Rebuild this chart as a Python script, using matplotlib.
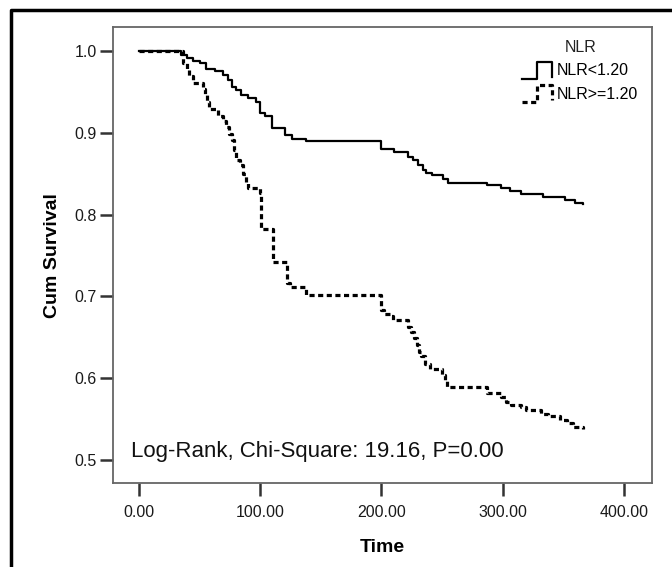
import matplotlib
matplotlib.use("Agg")
import matplotlib.pyplot as plt
from matplotlib.legend_handler import HandlerBase
from matplotlib.lines import Line2D

plt.rcParams['font.family'] = ['Liberation Sans', 'DejaVu Sans']

# Kaplan-Meier steps: (event time, survival after it)
low_time = [0, 35, 40, 45, 50.5, 55, 63, 69.5, 73.5, 76.5, 80.5, 84.5, 90, 97,
            100, 104, 109.5, 120.5, 126, 138, 199.5, 210.5, 222, 226, 230, 234,
            237, 241.5, 251, 255, 287, 299, 306, 315.5, 333.5, 351.5, 359.5, 366]
low_surv = [1.0, 0.995, 0.991, 0.988, 0.985, 0.978, 0.975, 0.971, 0.965, 0.956,
            0.952, 0.946, 0.942, 0.938, 0.924, 0.9205, 0.9055, 0.897, 0.893, 0.890,
            0.880, 0.8765, 0.871, 0.867, 0.861, 0.855, 0.851, 0.848, 0.844, 0.839,
            0.836, 0.832, 0.829, 0.825, 0.821, 0.818, 0.814, 0.813]

high_time = [0, 36, 39.5, 41.5, 44.5, 52.5, 54.5, 56, 58, 65, 69.5, 72, 74.5, 77,
             78.5, 80.5, 83, 85.5, 88, 90, 99.5, 101, 111, 122, 124.5, 138, 200,
             202.5, 207, 209.5, 222, 224.5, 227, 229.5, 231, 232.5, 236, 240, 250,
             252.5, 254.5, 287, 299, 303, 307, 315, 319.5, 332, 337, 347, 353, 358, 366]
high_surv = [1.0, 0.985, 0.977, 0.969, 0.961, 0.953, 0.946, 0.938, 0.929, 0.921,
             0.914, 0.907, 0.899, 0.891, 0.879, 0.867, 0.861, 0.850, 0.840, 0.832,
             0.826, 0.782, 0.742, 0.716, 0.711, 0.702, 0.683, 0.679, 0.676, 0.671,
             0.663, 0.657, 0.649, 0.641, 0.632, 0.627, 0.618, 0.612, 0.604, 0.598,
             0.589, 0.5815, 0.577, 0.571, 0.567, 0.565, 0.561, 0.557, 0.554, 0.549,
             0.545, 0.540, 0.538]

groups = ["NLR<1.20", "NLR>=1.20"]
x_ticks = [0, 100, 200, 300, 400]
y_ticks = [0.5, 0.6, 0.7, 0.8, 0.9, 1.0]
stat_text = "Log-Rank, Chi-Square: 19.16, P=0.00"


class StepHandler(HandlerBase):
    # little step glyph like the SPSS legend
    def create_artists(self, legend, orig_handle, xdescent, ydescent,
                       width, height, fontsize, trans):
        xs = [-xdescent + width * f for f in (0, 0.5, 0.5, 1.0, 1.0)]
        ys = [-ydescent + height * f for f in (-0.15, -0.15, 1.05, 1.05, 0.0)]
        line = Line2D(xs, ys)
        line.update_from(orig_handle)
        line.set_data(xs, ys)
        line.set_transform(trans)
        return [line]


def main():
    fig = plt.figure(figsize=(6.72, 5.67), dpi=100)
    ax = fig.add_axes([0.168, 0.148, 0.802, 0.804])

    l2, = ax.step(high_time, high_surv, where="post", color="black", lw=2.3,
                  linestyle=(0, (1.6, 1.1)), zorder=2)
    l1, = ax.step(low_time, low_surv, where="post", color="black", lw=1.6, zorder=3)

    ax.set_xlim(-21.4, 423)
    ax.set_ylim(0.472, 1.029)
    ax.set_xticks(x_ticks)
    ax.set_xticklabels([f"{v:.2f}" for v in x_ticks])
    ax.set_yticks(y_ticks)
    ax.set_yticklabels([f"{v:.1f}" for v in y_ticks])
    ax.tick_params(direction="out", length=9.5, width=1.8, color="#333333",
                   labelsize=11.5, labelcolor="#1a1a1a")
    ax.tick_params(axis="y", pad=2)
    ax.tick_params(axis="x", pad=6)
    for sp in ax.spines.values():
        sp.set_color("#666666")
        sp.set_linewidth(1.3)

    ax.set_xlabel("Time", fontsize=14, fontweight="bold", labelpad=14)
    ax.set_ylabel("Cum Survival", fontsize=14, fontweight="bold", labelpad=10)

    ax.text(0.033, 0.07, stat_text, transform=ax.transAxes, fontsize=16,
            va="center", ha="left", color="#111111")

    leg = ax.legend([l1, l2], groups, title="NLR", frameon=False,
                    loc="upper left", bbox_to_anchor=(522 / 672, 1 - 40 / 567),
                    bbox_transform=fig.transFigure, fontsize=11.5,
                    title_fontsize=11.5, handlelength=1.9, handleheight=1.0,
                    handletextpad=0.3, labelspacing=0.48, borderpad=0,
                    borderaxespad=0, handler_map={Line2D: StepHandler()})
    leg.get_title().set_color("#222222")

    # black frame around the picture (top and left visible)
    fig.add_artist(Line2D([11 / 672, 11 / 672, 1.0], [0.0, 1 - 10 / 567, 1 - 10 / 567],
                          transform=fig.transFigure, color="black", lw=2.5))

    fig.savefig("out.png", dpi=100)


if __name__ == "__main__":
    main()
